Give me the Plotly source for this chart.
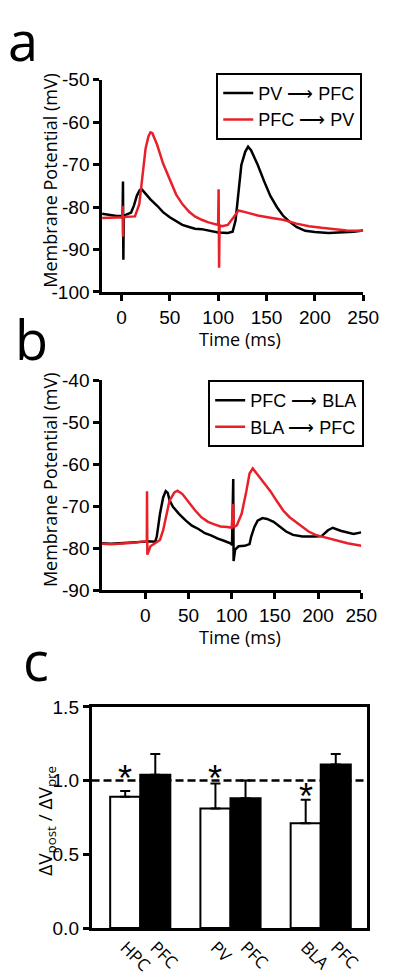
import plotly.graph_objects as go

# ---------------- Panel a data ----------------
a_black_t = [-20, -15, -10, -5, 0, 1.2, 1.6, 2.0, 2.4, 5, 8, 10, 13, 16, 19, 21, 24, 30, 37, 43, 50, 57, 63, 70, 76,
             83, 90, 96, 100, 110, 115, 118, 121, 124, 128, 131, 134, 141, 147.5, 154, 161, 167, 174, 181, 190,
             200, 214, 227, 240, 250]
a_black_v = [-81.6, -81.8, -82.0, -82.1, -82.1, -82.1, -74.0, -92.4, -82.0, -81.8, -81.6, -81.3, -79.6, -77.3,
             -76.0, -75.8, -76.6, -78.2, -79.7, -81.2, -82.4, -83.3, -84.2, -84.7, -85.1, -85.2, -85.5, -85.9,
             -86.0, -86.1, -85.8, -83.2, -76.2, -70.1, -67.0, -65.8, -66.6, -70.1, -73.9, -77.4, -80.1, -82.0,
             -83.5, -84.7, -85.6, -85.9, -86.1, -86.0, -85.8, -85.5]

a_red_t = [-20, -10, 0, 1.0, 1.3, 1.6, 2.0, 5, 10, 14, 18.5, 22, 25, 28, 30, 32, 37, 43, 50, 56.5, 63, 70, 76, 83,
           90, 98, 100, 100.5, 101, 101.5, 104, 110, 116, 121, 128, 141, 154, 167, 181, 194, 207, 220, 233, 250]
a_red_v = [-82.6, -82.5, -82.4, -82.4, -79.7, -87.0, -82.5, -82.3, -82.3, -82.2, -79.3, -72.4, -66.2, -63.3, -62.4,
           -62.6, -65.4, -69.7, -73.5, -77.0, -79.3, -81.1, -82.2, -83.0, -83.6, -84.1, -84.2, -75.8, -94.3, -84.3,
           -84.5, -84.2, -82.4, -80.8, -81.2, -82.0, -82.5, -83.0, -83.9, -84.5, -84.9, -85.2, -85.5, -85.6]

# ---------------- Panel b data ----------------
b_black_t = [-50, -40, -30, -20, -10, -5, 0, 2, 8, 11.5, 13.3, 17, 20.7, 23.7, 26, 28, 32, 39, 47, 54, 61.5, 69, 76,
             84, 91, 98.5, 100.4, 101.8, 102.2, 104, 108, 115, 120.7, 122.6, 126.3, 130, 135.6, 141, 148.5, 156,
             163, 171, 182, 197, 204, 211.5, 217, 226, 241, 250]
b_black_v = [-78.8, -78.9, -78.8, -78.7, -78.6, -78.4, -78.4, -78.3, -78.4, -78.4, -77.2, -71.8, -67.9, -66.4,
             -66.8, -68.5, -70.1, -71.8, -73.4, -74.6, -75.4, -76.4, -76.9, -77.7, -78.2, -78.8, -79.2, -63.5,
             -83.0, -80.3, -79.5, -79.4, -79.0, -77.2, -74.9, -73.4, -72.8, -73.0, -73.7, -74.9, -76.0, -76.8,
             -77.2, -77.2, -77.1, -75.7, -75.1, -75.8, -76.6, -76.2]

b_red_t = [-50, -40, -30, -20, -10, -5, 0, 1.8, 2.0, 2.4, 6, 11.5, 17, 20.7, 24.4, 28, 33.7, 37.4, 43, 50.4, 57.8,
           65, 72.6, 80, 87, 95, 100, 101.8, 102.5, 106, 111.5, 117, 120.7, 124.4, 130, 137.4, 144.8, 152, 159.6,
           167, 174.4, 182, 189, 197, 204, 219, 234, 250]
b_red_v = [-78.9, -79.0, -78.9, -78.8, -78.6, -78.4, -78.3, -78.3, -66.4, -81.5, -79.5, -78.8, -78.0, -75.7,
           -71.8, -68.7, -66.7, -66.3, -67.1, -69.1, -71.0, -72.6, -73.7, -74.3, -74.8, -74.9, -75.1, -69.5,
           -75.0, -74.5, -71.8, -66.4, -62.2, -61.0, -62.5, -64.4, -66.4, -68.7, -71.0, -72.6, -73.7, -74.9,
           -76.0, -76.8, -77.2, -78.0, -78.8, -79.4]

# ---------------- Panel c data ----------------
c_labels = ["HPC", "PFC", "PV", "PFC", "BLA", "PFC"]
c_positions = [1, 2, 4, 5, 7, 8]
c_white_vals = [0.89, 0.81, 0.71]
c_white_err = [0.04, 0.17, 0.16]
c_black_vals = [1.04, 0.88, 1.11]
c_black_err = [0.14, 0.12, 0.07]
c_white_pos = [1, 4, 7]
c_black_pos = [2, 5, 8]
c_star_y = [1.08, 1.08, 0.96]

a_xticks = [0, 50, 100, 150, 200, 250]
a_yticks = [-100, -90, -80, -70, -60, -50]
b_xticks = [0, 50, 100, 150, 200, 250]
b_yticks = [-90, -80, -70, -60, -50, -40]
c_yticks = [0.0, 0.5, 1.0, 1.5]

RED = "#e8202a"
NUM_FONT = dict(family="Liberation Sans, Arial", size=19, color="black")
TITLE_FONT = dict(family="Open Sans", size=18, color="black")

fig = go.Figure()

fig.add_trace(go.Scatter(x=a_black_t, y=a_black_v, mode="lines", line=dict(color="black", width=2.5),
                         name="PV ⟶ PFC", xaxis="x", yaxis="y", legend="legend"))
fig.add_trace(go.Scatter(x=a_red_t, y=a_red_v, mode="lines", line=dict(color=RED, width=2.5),
                         name="PFC ⟶ PV", xaxis="x", yaxis="y", legend="legend"))
fig.add_trace(go.Scatter(x=b_black_t, y=b_black_v, mode="lines", line=dict(color="black", width=2.5),
                         name="PFC ⟶ BLA", xaxis="x2", yaxis="y2", legend="legend2"))
fig.add_trace(go.Scatter(x=b_red_t, y=b_red_v, mode="lines", line=dict(color=RED, width=2.5),
                         name="BLA ⟶ PFC", xaxis="x2", yaxis="y2", legend="legend2"))

fig.add_trace(go.Bar(x=c_white_pos, y=c_white_vals, width=1.0,
                     marker=dict(color="white", line=dict(color="black", width=2)),
                     error_y=dict(type="data", array=c_white_err, arrayminus=[0] * 3, symmetric=False,
                                  color="black", thickness=2, width=5),
                     xaxis="x3", yaxis="y3", showlegend=False))
fig.add_trace(go.Bar(x=c_black_pos, y=c_black_vals, width=1.0,
                     marker=dict(color="black", line=dict(color="black", width=2)),
                     error_y=dict(type="data", array=c_black_err, arrayminus=[0] * 3, symmetric=False,
                                  color="black", thickness=2, width=5),
                     xaxis="x3", yaxis="y3", showlegend=False))

axis_common = dict(showline=True, linecolor="black", linewidth=2.5, ticks="outside", ticklen=6, tickwidth=2.5,
                   tickcolor="black", showgrid=False, zeroline=False, tickfont=NUM_FONT)


def H(px):  # paper y from pixel top
    return 1 - px / 978


fig.update_layout(
    width=400, height=978, margin=dict(l=0, r=0, t=0, b=0),
    paper_bgcolor="white", plot_bgcolor="white",
    barmode="overlay",
    xaxis=dict(domain=[0.245, 0.925], range=[-20, 250], anchor="y", tickvals=a_xticks,
               ticktext=[str(v) for v in a_xticks], **axis_common),
    yaxis=dict(domain=[H(280), H(63)], range=[-100, -50], anchor="x", tickvals=a_yticks,
               ticktext=[str(v) for v in a_yticks], **axis_common),
    xaxis2=dict(domain=[0.245, 0.92], range=[-50, 250], anchor="y2", tickvals=b_xticks,
                ticktext=[str(v) for v in b_xticks], **axis_common),
    yaxis2=dict(domain=[H(585), H(370)], range=[-90, -40], anchor="x2", tickvals=b_yticks,
                ticktext=[str(v) for v in b_yticks], **axis_common),
    xaxis3=dict(domain=[0.2175, 0.935], range=[-0.12, 9.04], anchor="y3", tickvals=c_positions,
                ticktext=c_labels, tickangle=45, showline=True, mirror=True, linecolor="black", linewidth=2.5,
                ticks="", showgrid=False, zeroline=False,
                tickfont=dict(family="Open Sans", size=17, color="black")),
    yaxis3=dict(domain=[H(930), H(704)], range=[0, 1.5], anchor="x3", tickvals=c_yticks,
                ticktext=["%.1f" % v for v in c_yticks], mirror=True, **axis_common),
    legend=dict(x=369 / 400, y=H(56), xanchor="right", yanchor="top", bordercolor="black", borderwidth=2,
                font=dict(family="Liberation Sans, Arial", size=18, color="black"), bgcolor="white"),
    legend2=dict(x=371 / 400, y=H(370), xanchor="right", yanchor="top", bordercolor="black", borderwidth=2,
                 font=dict(family="Liberation Sans, Arial", size=18, color="black"), bgcolor="white"),
)

fig.add_shape(type="line", xref="x3 domain", yref="y3", x0=0, x1=1, y0=1.0, y1=1.0,
              line=dict(color="black", width=2.5, dash="8px,4px"), layer="above")

ann = []


def add_text(text, xpx, ypx, font, angle=0, xanchor="center", yanchor="middle"):
    ann.append(dict(text=text, x=xpx / 400, y=H(ypx), xref="paper", yref="paper", showarrow=False,
                    font=font, textangle=angle, xanchor=xanchor, yanchor=yanchor))


LETTER = dict(family="Open Sans", size=54, color="black")
add_text("a", 16, 22, LETTER)
add_text("b", 24, 328, LETTER)
add_text("c", 29, 656, LETTER)
add_text("Membrane Potential (mV)", 44, 166, TITLE_FONT, angle=-90)
add_text("Time (ms)", 242, 328, TITLE_FONT)
add_text("Membrane Potential (mV)", 44, 472, TITLE_FONT, angle=-90)
add_text("Time (ms)", 242, 633, TITLE_FONT)
add_text("ΔV<sub>post</sub> / ΔV<sub>pre</sub>", 40, 820, dict(family="Open Sans", size=19, color="black"), angle=-90)
fig.update_layout(annotations=ann)

# significance asterisks
for xp, yv in zip(c_white_pos, c_star_y):
    fig.add_annotation(x=xp, y=yv, xref="x3", yref="y3", text="*", showarrow=False, yshift=-10,
                       font=dict(family="Liberation Sans, Arial", size=36, color="black"))

fig.write_html("out.html")
